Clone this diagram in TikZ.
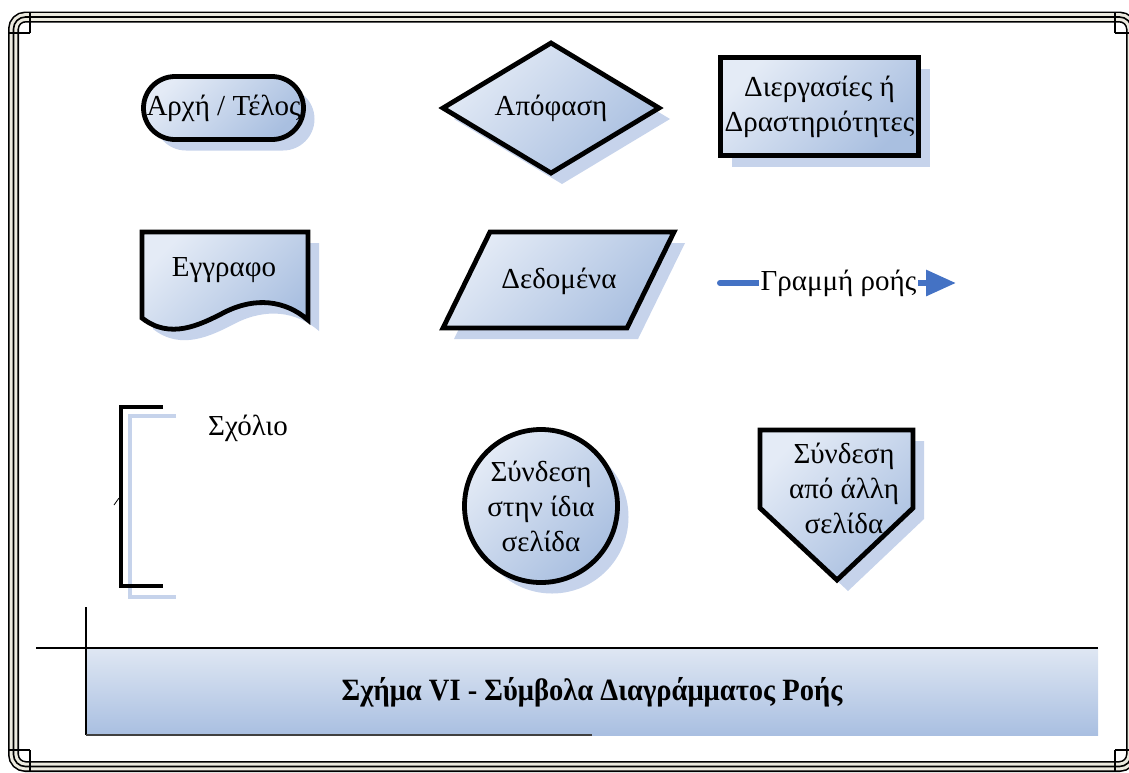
\documentclass[tikz,border=0pt]{standalone}
\usepackage{fontspec}
\setmainfont{Liberation Serif}
\newfontfamily\captionfont[FakeStretch=0.92]{Liberation Serif}
\usetikzlibrary{arrows.meta, shadows}
\definecolor{symtop}{HTML}{E4EBF6}
\definecolor{symbottom}{HTML}{A9BFE0}
\definecolor{shadowblue}{HTML}{C6D3EB}
\definecolor{flowblue}{HTML}{4472C4}
\definecolor{framecream}{HTML}{ECEADF}
\definecolor{captop}{HTML}{DFE7F3}
\definecolor{capbottom}{HTML}{A9BFE1}
\tikzset{
    symfill/.style={top color=symtop, bottom color=symbottom, shading angle=45},
    softshadow/.style={drop shadow={shadow xshift=5.5pt, shadow yshift=-5.5pt,
        fill=shadowblue, opacity=1}},
    outline/.style={draw=black, line width=2.4pt, line join=miter, symfill},
    terminal/.style={
        rectangle, outline, rounded corners=15.75pt,
        minimum width=80pt, minimum height=31.5pt, inner sep=0pt
    },
    procbox/.style={
        rectangle, outline, align=center,
        minimum width=99pt, minimum height=49pt, inner sep=0pt
    },
    connector/.style={
        circle, outline, align=center,
        minimum size=76.5pt, inner sep=0pt
    },
    symtext/.style={align=center, inner sep=0pt},
    flowline/.style={draw=flowblue, line width=3pt, line cap=round,
        -{Triangle[length=15pt, width=12.5pt]}},
    frameband/.style={draw=black, line width=0.8pt, double=framecream,
        double distance=3.9pt, rounded corners=6pt},
    frameline/.style={draw=black, line width=0.8pt, rounded corners=6pt}
}
\begin{document}
\begin{tikzpicture}[x=0.5pt, y=-0.5pt, font=\fontsize{14.5}{17.5}\selectfont]
\useasboundingbox (0,0) rectangle (1129,772);

% page frame
\draw[frameband] (13.5,17) rectangle (1131.5,766.5);
\draw[frameline] (13.5,17) rectangle (1131.5,766.5);
\foreach \cx/\cy/\sx/\sy in {30/33/-1/-1, 30/750/-1/1, 1115/33/1/-1, 1115/750/1/1} {
    \draw[black, line width=0.8pt] (\cx,\cy) -- ++(\sx*22,0);
    \draw[black, line width=0.8pt] (\cx,\cy) -- ++(0,\sy*21);
}

% row 1
\node[terminal, softshadow] (start) at (223.5,108) {Αρχή / Τέλος};
\draw[outline, softshadow] (443,108) -- (551,43) -- (659,108) -- (551,173) -- cycle;
\node[symtext] (decide) at (551,108) {Απόφαση};
\node[procbox, softshadow] (proc) at (819.5,106.5) {Διεργασίες ή\\Δραστηριότητες};

% row 2
\draw[outline, softshadow] (142,232) -- (308,232) -- (308,320)
    .. controls (285,300) and (255,297) .. (225,312)
    .. controls (200,325) and (170,340) .. (142,318) -- cycle;
\node[symtext] (doc) at (224,270) {Εγγραφο};
\draw[outline, softshadow] (490,232) -- (674,232) -- (627,328) -- (443,328) -- cycle;
\node[symtext] (data) at (559,281) {Δεδομένα};
\coordinate (flowa) at (720,283);
\coordinate (flowb) at (956,283);
\draw[flowline] (flowa) -- (flowb);
\node[fill=white, inner sep=1pt] (flow) at (838.5,283) {Γραμμή ροής};

% row 3
\draw[shadowblue, line width=1.6pt] (176,416) -- (130,416) -- (130,597) -- (176,597);
\draw[black, line width=2.4pt] (163,407) -- (121,407) -- (121,586) -- (163,586);
\draw[black, line width=0.4pt] (114,505) -- (119,498);
\node[symtext] (note) at (248,428) {Σχόλιο};
\node[connector, softshadow] (onpage) at (541,506) {Σύνδεση\\στην ίδια\\σελίδα};
\draw[outline, softshadow] (760,430) -- (913,430) -- (913,508) -- (837,580) -- (760,508) -- cycle;
\node[symtext] (offpage) at (844,488) {Σύνδεση\\από άλλη\\σελίδα};

% caption
\shade[top color=captop, bottom color=capbottom] (86,648) rectangle (1098,735);
\draw[black, line width=0.6pt] (36,648) -- (1098,648);
\draw[black, line width=0.6pt] (86,607) -- (86,735);
\draw[black!75, line width=1pt] (86,735) -- (592,735);
\node[font=\captionfont\fontsize{15.5}{18}\selectfont\bfseries] (caption) at (592,692)
    {Σχήμα VI - Σύμβολα Διαγράμματος Ροής};
\end{tikzpicture}
\end{document}
